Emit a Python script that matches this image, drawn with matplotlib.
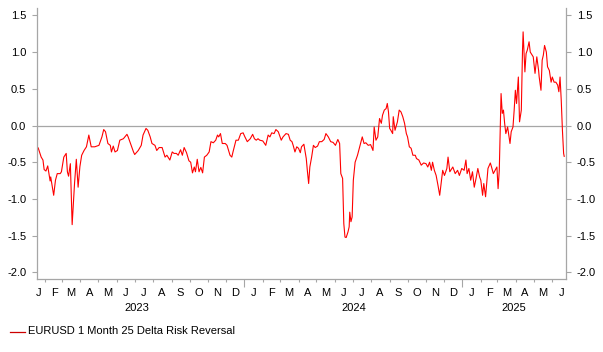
import matplotlib
matplotlib.use("Agg")
import matplotlib.pyplot as plt
import matplotlib.transforms as mtransforms
from matplotlib.lines import Line2D
import pandas as pd

plt.rcParams['font.family'] = ['Liberation Sans', 'DejaVu Sans']
plt.rcParams['axes.unicode_minus'] = False

dates = [
    "2023-01-20", "2023-01-25", "2023-01-28", "2023-01-30", "2023-02-02", "2023-02-05",
    "2023-02-09", "2023-02-10", "2023-02-15", "2023-02-18", "2023-02-21", "2023-02-26",
    "2023-02-28", "2023-03-04", "2023-03-08", "2023-03-10", "2023-03-12", "2023-03-15",
    "2023-03-18", "2023-03-22", "2023-03-25", "2023-03-28", "2023-03-31", "2023-04-03",
    "2023-04-07", "2023-04-11", "2023-04-15", "2023-04-19", "2023-04-25", "2023-05-02",
    "2023-05-07", "2023-05-10", "2023-05-13", "2023-05-17", "2023-05-21", "2023-05-23",
    "2023-05-26", "2023-05-29", "2023-06-02", "2023-06-06", "2023-06-12", "2023-06-18",
    "2023-06-20", "2023-06-25", "2023-06-29", "2023-07-01", "2023-07-07", "2023-07-12",
    "2023-07-15", "2023-07-20", "2023-07-23", "2023-07-27", "2023-07-30", "2023-08-04",
    "2023-08-07", "2023-08-11", "2023-08-16", "2023-08-21", "2023-08-24", "2023-08-29",
    "2023-09-02", "2023-09-05", "2023-09-09", "2023-09-12", "2023-09-16", "2023-09-19",
    "2023-09-22", "2023-09-26", "2023-09-30", "2023-10-03", "2023-10-06", "2023-10-09",
    "2023-10-11", "2023-10-14", "2023-10-17", "2023-10-20", "2023-10-23", "2023-10-26",
    "2023-10-30", "2023-11-03", "2023-11-06", "2023-11-10", "2023-11-14", "2023-11-17",
    "2023-11-19", "2023-11-22", "2023-11-25", "2023-11-30", "2023-12-03", "2023-12-08",
    "2023-12-11", "2023-12-13", "2023-12-18", "2023-12-22", "2023-12-26", "2023-12-30",
    "2024-01-02", "2024-01-06", "2024-01-11", "2024-01-15", "2024-01-18", "2024-01-21",
    "2024-01-24", "2024-01-27", "2024-02-01", "2024-02-06", "2024-02-10", "2024-02-13",
    "2024-02-16", "2024-02-20", "2024-02-23", "2024-02-27", "2024-03-03", "2024-03-06",
    "2024-03-11", "2024-03-15", "2024-03-18", "2024-03-21", "2024-03-23", "2024-03-26",
    "2024-03-29", "2024-04-01", "2024-04-04", "2024-04-06", "2024-04-10", "2024-04-14",
    "2024-04-16", "2024-04-18", "2024-04-20", "2024-04-23", "2024-04-26", "2024-04-29",
    "2024-05-03", "2024-05-06", "2024-05-10", "2024-05-14", "2024-05-17", "2024-05-21",
    "2024-05-25", "2024-05-29", "2024-06-02", "2024-06-06", "2024-06-09", "2024-06-11",
    "2024-06-14", "2024-06-16", "2024-06-18", "2024-06-20", "2024-06-23", "2024-06-25",
    "2024-06-26", "2024-06-28", "2024-06-30", "2024-07-02", "2024-07-05", "2024-07-09",
    "2024-07-12", "2024-07-15", "2024-07-17", "2024-07-20", "2024-07-23", "2024-07-27",
    "2024-07-31", "2024-08-04", "2024-08-06", "2024-08-09", "2024-08-12", "2024-08-15",
    "2024-08-18", "2024-08-20", "2024-08-23", "2024-08-26", "2024-08-28", "2024-08-30",
    "2024-09-01", "2024-09-03", "2024-09-06", "2024-09-07", "2024-09-10", "2024-09-14",
    "2024-09-17", "2024-09-20", "2024-09-23", "2024-09-26", "2024-09-29", "2024-10-01",
    "2024-10-04", "2024-10-07", "2024-10-10", "2024-10-14", "2024-10-16", "2024-10-20",
    "2024-10-24", "2024-10-28", "2024-11-01", "2024-11-04", "2024-11-07", "2024-11-10",
    "2024-11-12", "2024-11-15", "2024-11-18", "2024-11-21", "2024-11-24", "2024-11-29",
    "2024-12-02", "2024-12-06", "2024-12-08", "2024-12-11", "2024-12-16", "2024-12-20",
    "2024-12-24", "2024-12-27", "2024-12-31", "2025-01-04", "2025-01-07", "2025-01-09",
    "2025-01-12", "2025-01-15", "2025-01-18", "2025-01-21", "2025-01-24", "2025-01-27",
    "2025-01-30", "2025-02-01", "2025-02-04", "2025-02-06", "2025-02-09", "2025-02-13",
    "2025-02-17", "2025-02-19", "2025-02-22", "2025-02-25", "2025-02-28", "2025-03-02",
    "2025-03-04", "2025-03-07", "2025-03-09", "2025-03-11", "2025-03-13", "2025-03-15",
    "2025-03-18", "2025-03-22", "2025-03-24", "2025-03-27", "2025-03-29", "2025-03-31",
    "2025-04-02", "2025-04-05", "2025-04-07", "2025-04-10", "2025-04-12", "2025-04-13",
    "2025-04-16", "2025-04-18", "2025-04-20", "2025-04-23", "2025-04-25", "2025-04-28",
    "2025-04-30", "2025-05-03", "2025-05-06", "2025-05-09", "2025-05-10", "2025-05-13",
    "2025-05-15", "2025-05-17", "2025-05-19", "2025-05-22", "2025-05-24", "2025-05-27",
    "2025-05-30", "2025-06-01", "2025-06-04", "2025-06-07", "2025-06-10", "2025-06-12",
    "2025-06-14", "2025-06-16", "2025-06-18", "2025-06-20", "2025-06-21",
]

values = [
    -0.305, -0.43, -0.47, -0.60, -0.62, -0.55,
    -0.755, -0.70, -0.95, -0.745, -0.655, -0.655,
    -0.63, -0.43, -0.38, -0.63, -0.69, -0.52,
    -1.35, -0.79, -0.46, -0.84, -0.56, -0.405,
    -0.34, -0.29, -0.13, -0.29, -0.29, -0.27,
    -0.155, -0.055, -0.085, -0.245, -0.27, -0.36,
    -0.28, -0.36, -0.34, -0.20, -0.18, -0.12,
    -0.155, -0.27, -0.36, -0.395, -0.34, -0.27,
    -0.13, -0.04, -0.065, -0.155, -0.245, -0.27,
    -0.34, -0.30, -0.30, -0.43, -0.405, -0.47,
    -0.36, -0.38, -0.38, -0.405, -0.33, -0.405,
    -0.30, -0.37, -0.48, -0.50, -0.645, -0.565,
    -0.63, -0.46, -0.63, -0.57, -0.645, -0.43,
    -0.405, -0.36, -0.22, -0.235, -0.20, -0.13,
    -0.155, -0.11, -0.245, -0.245, -0.27, -0.405,
    -0.43, -0.36, -0.20, -0.20, -0.11, -0.10,
    -0.155, -0.22, -0.18, -0.12, -0.18, -0.20,
    -0.18, -0.20, -0.21, -0.27, -0.13, -0.155,
    -0.10, -0.11, -0.055, -0.085, -0.20, -0.155,
    -0.11, -0.12, -0.20, -0.22, -0.27, -0.36,
    -0.29, -0.31, -0.37, -0.29, -0.255, -0.45,
    -0.63, -0.79, -0.565, -0.43, -0.27, -0.30,
    -0.28, -0.22, -0.22, -0.19, -0.11, -0.155,
    -0.22, -0.23, -0.27, -0.19, -0.245, -0.655,
    -0.72, -1.335, -1.52, -1.525, -1.45, -1.38,
    -1.18, -1.31, -1.245, -0.745, -0.50, -0.405,
    -0.31, -0.22, -0.155, -0.245, -0.235, -0.27,
    -0.26, -0.34, -0.02, -0.20, -0.155, 0.095,
    0.03, 0.14, 0.21, 0.23, 0.30, 0.185,
    -0.04, -0.065, -0.11, 0.12, -0.065, 0.05,
    0.21, 0.185, 0.12, 0.03, -0.11, -0.155,
    -0.29, -0.31, -0.405, -0.405, -0.45, -0.47,
    -0.54, -0.51, -0.52, -0.565, -0.50, -0.61,
    -0.50, -0.61, -0.68, -0.81, -0.95, -0.61,
    -0.68, -0.585, -0.43, -0.63, -0.565, -0.655,
    -0.61, -0.68, -0.585, -0.61, -0.47, -0.655,
    -0.585, -0.745, -0.63, -0.84, -0.72, -0.585,
    -0.70, -0.745, -0.95, -0.79, -0.97, -0.585,
    -0.51, -0.565, -0.655, -0.61, -0.565, -0.86,
    -0.61, 0.435, 0.165, 0.21, 0.03, -0.11,
    -0.02, -0.245, -0.085, -0.02, 0.21, 0.48,
    0.30, 0.66, 0.05, 0.21, 1.026, 1.275,
    0.73, 0.98, 1.026, 1.14, 1.00, 0.96,
    0.935, 0.71, 0.935, 0.75, 0.66, 0.48,
    0.89, 0.96, 1.09, 1.00, 0.80, 0.75,
    0.59, 0.66, 0.59, 0.59, 0.55, 0.46,
    0.66, 0.345, -0.065, -0.38, -0.42,
]

series_label = "EURUSD 1 Month 25 Delta Risk Reversal"
month_letters = ["J", "F", "M", "A", "M", "J", "J", "A", "S", "O", "N", "D"]
year_labels = ["2023", "2024", "2025"]
y_ticks = [-2.0, -1.5, -1.0, -0.5, 0.0, 0.5, 1.0, 1.5]

W, H = 603, 352
fig = plt.figure(figsize=(W / 100, H / 100), dpi=100)
ax = fig.add_axes([37 / W, 1 - 279 / H, (566 - 37) / W, (279 - 8) / H])

x = pd.to_datetime(dates)
ax.axhline(0, color="#a6a6a6", lw=0.9, zorder=1)
ax.plot(x, values, color="#ff0000", lw=0.8, zorder=2)

x0 = pd.Timestamp("2023-01-18")
x1 = pd.Timestamp("2025-06-24")
ax.set_xlim(x0, x1)
ax.set_ylim(-2.09, 1.6)

grey = "#a6a6a6"
txt = "#000000"
fs = 8
for s in ["left", "right", "bottom"]:
    ax.spines[s].set_color(grey)
    ax.spines[s].set_linewidth(0.9)
ax.spines["top"].set_visible(False)

# y axis both sides
ax.set_yticks(y_ticks)
ax.set_yticklabels([f"{v:.1f}" for v in y_ticks])
ax.tick_params(axis="y", which="major", left=True, right=True, labelleft=True,
               labelright=True, length=3.6, width=0.8, color=grey, pad=4.2,
               labelsize=fs, labelcolor=txt)

# x axis: month-start minor ticks, year-start longer ticks, month letters mid-month
month_starts = pd.date_range("2023-02-01", "2025-06-01", freq="MS")
year_starts = [pd.Timestamp("2024-01-01"), pd.Timestamp("2025-01-01")]
minor = [d for d in month_starts if d.month != 1]
ax.set_xticks(year_starts)
ax.set_xticklabels([])
ax.set_xticks(minor, minor=True)
ax.tick_params(axis="x", which="major", length=5.5, width=0.8, color=grey)
ax.tick_params(axis="x", which="minor", length=2.5, width=0.8, color=grey)

trans = mtransforms.blended_transform_factory(ax.transData, fig.transFigure)
months = pd.date_range("2023-01-01", "2025-06-01", freq="MS")
for m in months:
    mid = m + pd.Timedelta(days=15)
    if m == months[0]:
        mid = pd.Timestamp("2023-01-20")
    ax.text(mid, 1 - 293.5 / H, month_letters[m.month - 1], transform=trans,
            ha="center", va="center", fontsize=fs, color=txt)

year_pos = [pd.Timestamp("2023-07-04"), pd.Timestamp("2024-07-02"), pd.Timestamp("2025-03-29")]
for pos, lab in zip(year_pos, year_labels):
    ax.text(pos, 1 - 308 / H, lab, transform=trans, ha="center", va="center",
            fontsize=fs, color=txt)

# legend
fig.add_artist(Line2D([10 / W, 24.5 / W], [1 - 331.5 / H] * 2, color="#cc0000", lw=0.9))
fig.text(28.5 / W, 1 - 331.5 / H, series_label, ha="left", va="center",
         fontsize=fs, color=txt)

fig.savefig("out.png", dpi=100)
